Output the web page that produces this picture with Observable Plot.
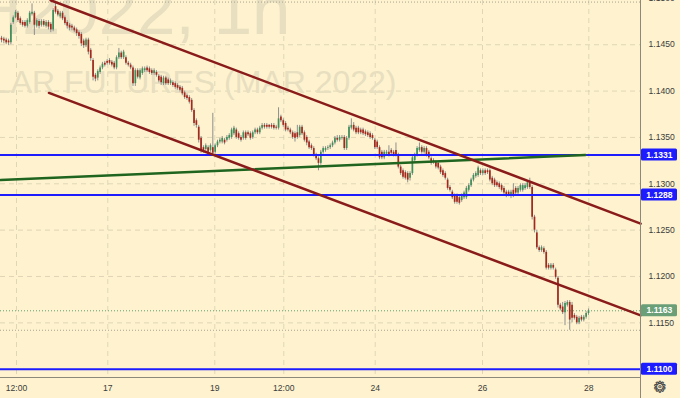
<!DOCTYPE html>
<html><head><meta charset="utf-8">
<script src="https://cdn.jsdelivr.net/npm/d3@7"></script>
<script src="https://cdn.jsdelivr.net/npm/@observablehq/plot@0.6"></script>
<style>
html,body{margin:0;padding:0;background:#fef3ce;overflow:hidden;}
#chart svg{display:block;}
</style></head><body><div id="chart"></div>
<script>
// ---- data (hourly candles) ----
const open = [
1.1457,1.1456,1.1455,1.1454,1.1452,1.1474,1.1479,1.1484,1.1478,1.1474,
1.1474,1.1470,1.1474,1.1483,1.1484,1.1470,1.1475,1.1471,1.1475,1.1470,
1.1474,1.1472,1.1466,1.1491,1.1486,1.1480,1.1484,1.1479,1.1474,1.1471,
1.1470,1.1468,1.1466,1.1463,1.1461,1.1454,1.1449,1.1455,1.1444,1.1433,
1.1417,1.1414,1.1420,1.1425,1.1430,1.1432,1.1433,1.1431,1.1430,1.1425,
1.1436,1.1441,1.1436,1.1436,1.1430,1.1428,1.1425,1.1408,1.1422,1.1414,
1.1419,1.1422,1.1425,1.1424,1.1422,1.1419,1.1420,1.1416,1.1415,1.1408,
1.1414,1.1412,1.1408,1.1409,1.1408,1.1406,1.1404,1.1403,1.1398,1.1395,
1.1393,1.1390,1.1379,1.1368,1.1361,1.1349,1.1339,1.1337,1.1339,1.1336,
1.1339,1.1334,1.1341,1.1345,1.1345,1.1347,1.1347,1.1349,1.1350,1.1354,
1.1358,1.1354,1.1350,1.1349,1.1355,1.1355,1.1354,1.1350,1.1355,1.1358,
1.1355,1.1360,1.1363,1.1363,1.1363,1.1363,1.1363,1.1361,1.1360,1.1372,
1.1368,1.1365,1.1360,1.1358,1.1355,1.1354,1.1355,1.1352,1.1361,1.1355,
1.1350,1.1345,1.1341,1.1338,1.1331,1.1327,1.1322,1.1334,1.1336,1.1338,
1.1339,1.1341,1.1344,1.1349,1.1347,1.1349,1.1350,1.1338,1.1349,1.1360,
1.1363,1.1360,1.1360,1.1358,1.1358,1.1356,1.1355,1.1354,1.1352,1.1347,
1.1345,1.1339,1.1334,1.1328,1.1332,1.1334,1.1336,1.1334,1.1336,1.1331,
1.1318,1.1314,1.1312,1.1311,1.1306,1.1311,1.1325,1.1331,1.1336,1.1339,
1.1334,1.1338,1.1334,1.1327,1.1325,1.1323,1.1322,1.1318,1.1314,1.1311,
1.1304,1.1296,1.1291,1.1287,1.1287,1.1285,1.1282,1.1285,1.1285,1.1293,
1.1298,1.1304,1.1308,1.1309,1.1314,1.1311,1.1314,1.1314,1.1314,1.1306,
1.1304,1.1301,1.1300,1.1298,1.1295,1.1291,1.1291,1.1287,1.1293,1.1295,
1.1290,1.1293,1.1293,1.1295,1.1296,1.1301,1.1296,1.1264,1.1247,1.1231,
1.1228,1.1230,1.1226,1.1212,1.1209,1.1212,1.1207,1.1198,1.1169,1.1167,
1.1161,1.1169,1.1172,1.1169,1.1158,1.1156,1.1150,1.1156,1.1153,1.1156,1.1160];
const close = [
1.1455,1.1454,1.1452,1.1452,1.1471,1.1479,1.1485,1.1476,1.1473,1.1471,
1.1470,1.1476,1.1484,1.1485,1.1471,1.1476,1.1470,1.1475,1.1471,1.1474,
1.1469,1.1466,1.1487,1.1485,1.1482,1.1484,1.1478,1.1473,1.1470,1.1468,
1.1468,1.1465,1.1462,1.1459,1.1451,1.1449,1.1455,1.1442,1.1435,1.1415,
1.1413,1.1421,1.1425,1.1429,1.1428,1.1430,1.1430,1.1428,1.1425,1.1436,
1.1441,1.1436,1.1442,1.1430,1.1428,1.1425,1.1408,1.1422,1.1415,1.1422,
1.1424,1.1424,1.1422,1.1420,1.1419,1.1422,1.1417,1.1411,1.1409,1.1414,
1.1408,1.1408,1.1411,1.1406,1.1404,1.1403,1.1401,1.1397,1.1393,1.1392,
1.1388,1.1379,1.1365,1.1363,1.1347,1.1336,1.1336,1.1341,1.1334,1.1341,
1.1333,1.1341,1.1345,1.1347,1.1349,1.1344,1.1350,1.1352,1.1358,1.1360,
1.1350,1.1349,1.1347,1.1355,1.1349,1.1353,1.1349,1.1355,1.1358,1.1355,
1.1360,1.1363,1.1361,1.1361,1.1361,1.1361,1.1360,1.1360,1.1370,1.1368,
1.1363,1.1358,1.1358,1.1355,1.1350,1.1349,1.1350,1.1361,1.1354,1.1347,
1.1344,1.1339,1.1338,1.1331,1.1327,1.1322,1.1334,1.1338,1.1338,1.1339,
1.1341,1.1344,1.1349,1.1347,1.1350,1.1350,1.1338,1.1349,1.1361,1.1363,
1.1358,1.1355,1.1355,1.1355,1.1354,1.1353,1.1352,1.1350,1.1349,1.1339,
1.1339,1.1328,1.1328,1.1334,1.1334,1.1331,1.1333,1.1331,1.1331,1.1318,
1.1311,1.1307,1.1306,1.1304,1.1311,1.1328,1.1331,1.1338,1.1339,1.1334,
1.1338,1.1331,1.1328,1.1322,1.1323,1.1318,1.1317,1.1312,1.1309,1.1306,
1.1295,1.1293,1.1285,1.1280,1.1280,1.1279,1.1287,1.1290,1.1295,1.1298,
1.1304,1.1309,1.1311,1.1317,1.1311,1.1314,1.1311,1.1312,1.1304,1.1300,
1.1298,1.1298,1.1296,1.1293,1.1290,1.1287,1.1288,1.1291,1.1287,1.1290,
1.1295,1.1298,1.1298,1.1298,1.1301,1.1296,1.1264,1.1250,1.1231,1.1228,
1.1231,1.1226,1.1209,1.1209,1.1212,1.1209,1.1199,1.1169,1.1165,1.1161,
1.1171,1.1172,1.1153,1.1155,1.1155,1.1150,1.1155,1.1153,1.1156,1.1160,1.1163];
const high = [
1.1459,1.1458,1.1457,1.1456,1.1473,1.1481,1.1487,1.1486,1.1480,1.1476,
1.1476,1.1478,1.1486,1.1494,1.1486,1.1478,1.1477,1.1477,1.1477,1.1476,
1.1476,1.1474,1.1489,1.1496,1.1488,1.1486,1.1486,1.1481,1.1476,1.1473,
1.1472,1.1470,1.1468,1.1465,1.1463,1.1456,1.1457,1.1457,1.1446,1.1435,
1.1419,1.1423,1.1427,1.1431,1.1432,1.1434,1.1435,1.1433,1.1432,1.1438,
1.1446,1.1443,1.1444,1.1438,1.1432,1.1430,1.1427,1.1424,1.1424,1.1424,
1.1426,1.1426,1.1427,1.1426,1.1424,1.1424,1.1422,1.1418,1.1417,1.1416,
1.1416,1.1414,1.1413,1.1411,1.1410,1.1408,1.1406,1.1405,1.1400,1.1397,
1.1395,1.1392,1.1381,1.1370,1.1363,1.1351,1.1341,1.1343,1.1341,1.1343,
1.1376,1.1343,1.1347,1.1349,1.1351,1.1349,1.1352,1.1354,1.1360,1.1362,
1.1360,1.1356,1.1352,1.1357,1.1357,1.1357,1.1356,1.1357,1.1360,1.1360,
1.1362,1.1365,1.1365,1.1365,1.1364,1.1365,1.1365,1.1363,1.1382,1.1374,
1.1370,1.1367,1.1362,1.1360,1.1357,1.1356,1.1363,1.1363,1.1363,1.1357,
1.1352,1.1347,1.1343,1.1340,1.1333,1.1329,1.1336,1.1340,1.1340,1.1341,
1.1343,1.1346,1.1351,1.1352,1.1352,1.1352,1.1352,1.1351,1.1363,1.1370,
1.1366,1.1362,1.1362,1.1360,1.1360,1.1358,1.1357,1.1356,1.1354,1.1349,
1.1347,1.1341,1.1336,1.1336,1.1336,1.1341,1.1338,1.1336,1.1344,1.1333,
1.1320,1.1316,1.1314,1.1313,1.1313,1.1330,1.1333,1.1340,1.1344,1.1341,
1.1340,1.1340,1.1336,1.1329,1.1327,1.1325,1.1324,1.1320,1.1316,1.1313,
1.1306,1.1298,1.1293,1.1289,1.1289,1.1287,1.1289,1.1292,1.1297,1.1300,
1.1306,1.1311,1.1313,1.1319,1.1316,1.1316,1.1316,1.1316,1.1316,1.1308,
1.1306,1.1303,1.1302,1.1300,1.1297,1.1293,1.1293,1.1293,1.1300,1.1297,
1.1297,1.1300,1.1300,1.1300,1.1303,1.1306,1.1298,1.1266,1.1250,1.1233,
1.1233,1.1232,1.1228,1.1214,1.1214,1.1214,1.1209,1.1200,1.1171,1.1172,
1.1173,1.1174,1.1174,1.1172,1.1160,1.1158,1.1157,1.1158,1.1158,1.1162,1.1165];
const low = [
1.1452,1.1451,1.1450,1.1449,1.1450,1.1472,1.1478,1.1474,1.1471,1.1469,
1.1468,1.1468,1.1472,1.1481,1.1460,1.1468,1.1467,1.1469,1.1469,1.1468,
1.1466,1.1463,1.1464,1.1483,1.1480,1.1478,1.1476,1.1471,1.1467,1.1465,
1.1465,1.1463,1.1459,1.1456,1.1448,1.1446,1.1447,1.1439,1.1432,1.1411,
1.1410,1.1411,1.1418,1.1423,1.1426,1.1428,1.1428,1.1426,1.1423,1.1423,
1.1434,1.1434,1.1434,1.1428,1.1426,1.1423,1.1405,1.1405,1.1413,1.1412,
1.1417,1.1420,1.1420,1.1418,1.1417,1.1417,1.1415,1.1409,1.1406,1.1406,
1.1406,1.1406,1.1406,1.1404,1.1402,1.1401,1.1399,1.1395,1.1391,1.1390,
1.1386,1.1377,1.1362,1.1360,1.1344,1.1333,1.1333,1.1335,1.1332,1.1334,
1.1331,1.1332,1.1339,1.1343,1.1343,1.1342,1.1345,1.1347,1.1348,1.1352,
1.1348,1.1347,1.1345,1.1347,1.1347,1.1351,1.1347,1.1348,1.1353,1.1353,
1.1353,1.1358,1.1359,1.1359,1.1359,1.1359,1.1358,1.1358,1.1358,1.1366,
1.1361,1.1356,1.1356,1.1353,1.1348,1.1345,1.1348,1.1350,1.1352,1.1345,
1.1341,1.1337,1.1336,1.1329,1.1325,1.1314,1.1320,1.1332,1.1334,1.1336,
1.1337,1.1339,1.1342,1.1345,1.1345,1.1347,1.1336,1.1336,1.1347,1.1358,
1.1356,1.1353,1.1353,1.1353,1.1352,1.1351,1.1350,1.1348,1.1347,1.1337,
1.1337,1.1326,1.1326,1.1326,1.1330,1.1329,1.1331,1.1329,1.1329,1.1316,
1.1309,1.1305,1.1304,1.1301,1.1303,1.1309,1.1323,1.1329,1.1334,1.1332,
1.1332,1.1329,1.1326,1.1320,1.1321,1.1316,1.1315,1.1310,1.1307,1.1304,
1.1293,1.1291,1.1283,1.1278,1.1278,1.1277,1.1280,1.1283,1.1283,1.1291,
1.1296,1.1302,1.1306,1.1307,1.1309,1.1309,1.1309,1.1310,1.1302,1.1298,
1.1296,1.1296,1.1294,1.1291,1.1288,1.1285,1.1286,1.1284,1.1285,1.1288,
1.1288,1.1291,1.1291,1.1293,1.1294,1.1294,1.1261,1.1247,1.1229,1.1226,
1.1226,1.1224,1.1207,1.1207,1.1207,1.1207,1.1197,1.1166,1.1163,1.1159,
1.1147,1.1167,1.1142,1.1150,1.1153,1.1148,1.1148,1.1151,1.1151,1.1154,1.1158];

// time axis (bar index) ticks and labels
const timeTicks = [6.39, 45.27, 90.84, 120.23, 159.16, 204.86, 250.13];
const timeLabels = ["12:00", "17", "19", "12:00", "24", "26", "28"];
// price axis ticks
const priceTicks = [1.1150, 1.1200, 1.1250, 1.1300, 1.1350, 1.1400, 1.1450, 1.1500];
// horizontal levels (blue)
const levels = [1.1331, 1.1288, 1.1100];
// trend lines: bar index / price end points
const upperX = [20.9, 272.2], upperP = [1.1498, 1.1257];
const lowerX = [20.2, 272.2], lowerP = [1.1398, 1.1158];
const supportX = [-0.43, 248.7], supportP = [1.1304, 1.1331];
const symbolLine = "6EH2022, 1h";
const titleLine = "EURO FX/U.S. DOLLAR FUTURES (MAR 2022)";

// ---- build ----
const candles = open.map((o, i) => ({i, open: o, high: high[i], low: low[i], close: close[i]}));
const pts = (xs, ps) => xs.map((x, k) => ({i: x, p: ps[k]}));
const xDomain = [-0.426, 272.15];
const yDomain = [1.109105, 1.14977];
const FONT = "'Liberation Sans', Arial, sans-serif";
const BG = "#fef3ce", WM = "#e8dec0", GREEN = "#3f8f5c", RED = "#a2291f", WICK = "#8e8e8e";
const BLUE = "#1c1cff", MAROON = "#8a1b1b", DKGREEN = "#1f641f", AXIS = "#8c887a", LABEL = "#3c3c3c";
const grid = {stroke: "#cbc3a8", strokeOpacity: 0.6, strokeDasharray: "5,4"};
const AXFS = 8.6;

const chart = Plot.plot({
  width: 680, height: 398,
  marginLeft: 0, marginRight: 40, marginTop: 0, marginBottom: 21,
  style: {background: BG, fontFamily: FONT, fontSize: "9px", overflow: "hidden"},
  x: {domain: xDomain},
  y: {domain: yDomain},
  marks: [
    Plot.gridY(priceTicks, grid),
    Plot.gridX(timeTicks, grid),
    Plot.text([symbolLine], {frameAnchor: "top-left", dx: 290, dy: 33, textAnchor: "end", lineAnchor: "bottom", fontSize: 69, fill: WM}),
    Plot.text([titleLine], {frameAnchor: "top-left", dx: 396, dy: 92, textAnchor: "end", lineAnchor: "bottom", fontSize: 32, fill: WM}),
    Plot.ruleY([d3.max(high)], {stroke: "#a8a490", strokeDasharray: "1,2"}),
    Plot.ruleY([d3.min(low)], {stroke: "#a8a490", strokeDasharray: "1,2"}),
    Plot.ruleY([close[close.length - 1]], {stroke: "#5e9f74", strokeDasharray: "1,2"}),
    Plot.ruleX(candles, {x: "i", y1: "low", y2: "high", stroke: WICK, strokeWidth: 1}),
    Plot.ruleX(candles.filter(d => d.close >= d.open), {x: "i", y1: "open", y2: "close", stroke: GREEN, strokeWidth: 1.7}),
    Plot.ruleX(candles.filter(d => d.close < d.open), {x: "i", y1: "open", y2: "close", stroke: RED, strokeWidth: 1.7}),
    Plot.ruleY(levels, {stroke: BLUE, strokeWidth: 2}),
    Plot.line(pts(supportX, supportP), {x: "i", y: "p", stroke: DKGREEN, strokeWidth: 2.5}),
    Plot.line(pts(upperX, upperP), {x: "i", y: "p", stroke: MAROON, strokeWidth: 2.5}),
    Plot.line(pts(lowerX, lowerP), {x: "i", y: "p", stroke: MAROON, strokeWidth: 2.5}),
    Plot.ruleY([yDomain[0]], {stroke: AXIS}),
    Plot.ruleX([xDomain[1]], {stroke: AXIS, insetBottom: -21}),
    Plot.axisY(priceTicks, {anchor: "right", tickSize: 0, tickPadding: 8, tickFormat: d3.format(".4f"), label: null, fill: LABEL, fontSize: AXFS}),
    Plot.axisX(timeTicks, {anchor: "bottom", tickSize: 0, tickPadding: 7, tickFormat: d => timeLabels[timeTicks.indexOf(d)], label: null, fill: LABEL, fontSize: AXFS})
  ]
});
document.getElementById("chart").appendChild(chart);

// price tags in the right axis, positioned with the plot's y scale
const ys = chart.scale("y");
const svg = d3.select(chart);
const tags = levels.map(v => ({v, fill: BLUE})).concat([{v: close[close.length - 1], fill: "#6a9f78"}]);
const g = svg.append("g").attr("font-family", FONT).attr("font-size", AXFS).attr("font-weight", "bold");
for (const t of tags) {
  const yy = ys.apply(t.v);
  g.append("rect").attr("x", 641).attr("y", yy - 6).attr("width", 36).attr("height", 12).attr("rx", 1.5).attr("fill", t.fill);
  g.append("text").attr("x", 659.5).attr("y", yy).attr("dy", "0.36em").attr("text-anchor", "middle").attr("fill", "white").text(d3.format(".4f")(t.v));
}
svg.append("text").attr("x", 660).attr("y", 387).attr("dy", "0.36em").attr("text-anchor", "middle")
  .attr("font-family", "DejaVu Sans").attr("font-size", 15).attr("fill", "none").attr("stroke", "#444").attr("stroke-width", 0.9).text("\u2699");
</script></body></html>
